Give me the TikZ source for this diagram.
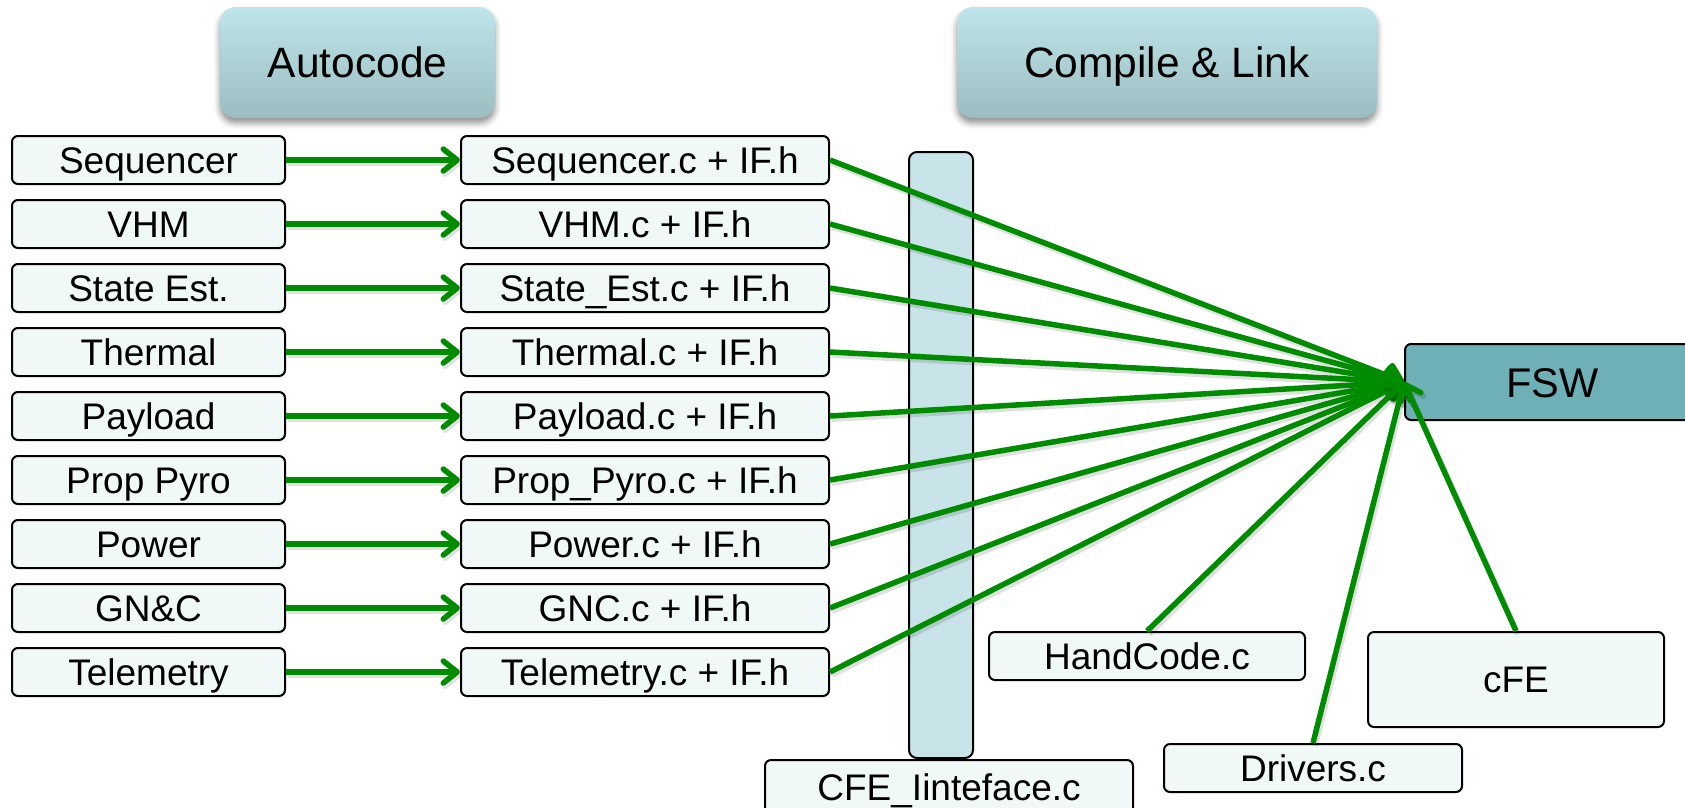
\documentclass[tikz,border=0pt]{standalone}
\usepackage{fontspec}
\setmainfont{Liberation Sans}
\usetikzlibrary{arrows.meta,shadows.blur}

\definecolor{boxfill}{HTML}{F0F8F8}
\definecolor{barfill}{HTML}{C9E4E8}
\definecolor{fswfill}{HTML}{6FB0B6}
\definecolor{hdrtop}{HTML}{BEE5EA}
\definecolor{hdrbot}{HTML}{9BBDC0}
\definecolor{flowgreen}{RGB}{0,140,0}

\begin{document}
\begin{tikzpicture}[x=1pt,y=-1pt,
  item/.style={draw=black, line width=2pt, rounded corners=6pt, fill=boxfill,
    minimum height=48pt, inner sep=0pt, text height=26.5pt, text depth=0pt,
    font=\fontsize{37}{42}\selectfont},
  hdr/.style={rounded corners=16pt, top color=hdrtop, bottom color=hdrbot, draw=none,
    minimum height=111pt, inner sep=0pt, text height=30pt, text depth=0pt,
    font=\fontsize{42.5}{48}\selectfont,
    blur shadow={shadow xshift=0pt, shadow yshift=-5pt, shadow blur radius=6pt, shadow opacity=45}},
  flow/.style={draw=flowgreen, line width=5.5pt,
    -{Straight Barb[length=14pt, width=22pt, round]},
    preaction={draw=black, draw opacity=0.12, line width=6pt,
      transform canvas={shift={(2pt,-3pt)}}}}
]
\useasboundingbox (0,0) rectangle (1685,807);

% stage headers
\node[hdr, minimum width=275pt] (autocode) at (357.5,62.5) {Autocode};
\node[hdr, minimum width=420pt] (compile) at (1167,62.5) {Compile \& Link};

% interface bar and its label
\node[item, minimum width=64pt, minimum height=606pt, fill=barfill, rounded corners=8pt] (ifbar) at (941,455) {};
\node[item, minimum width=368pt, minimum height=54pt] (cfeif) at (949,787) {CFE\_Iinteface.c};

% target image
\node[item, minimum width=295pt, minimum height=76pt, fill=fswfill, text height=30pt,
  font=\fontsize{41.5}{46}\selectfont] (fsw) at (1552.5,382) {FSW};
\coordinate (fswin) at (fsw.west);

% extra sources
\node[item, minimum width=316pt] (hand) at (1147,656) {HandCode.c};
\node[item, minimum width=298pt] (drv) at (1313,768) {Drivers.c};
\node[item, minimum width=296pt, minimum height=95pt] (cfe) at (1516,679.5) {cFE};

% models and generated code
\foreach \i/\m/\c in {
  1/Sequencer/Sequencer.c + IF.h,
  2/VHM/VHM.c + IF.h,
  3/State Est./State\_Est.c + IF.h,
  4/Thermal/Thermal.c + IF.h,
  5/Payload/Payload.c + IF.h,
  6/Prop Pyro/Prop\_Pyro.c + IF.h,
  7/Power/Power.c + IF.h,
  8/GN\&C/GNC.c + IF.h,
  9/Telemetry/Telemetry.c + IF.h}{
  \node[item, minimum width=273pt] (m\i) at (148.5,{160+64*(\i-1)}) {\m};
  \node[item, minimum width=368pt] (c\i) at (645,{160+64*(\i-1)}) {\c};
  \draw[flow] (m\i) -- (c\i);
  \draw[flow] (c\i.east) -- (fswin);
}

\draw[flow] (hand.north) -- (fswin);
\draw[flow] (drv.north) -- (fswin);
\draw[flow] (cfe.north) -- (fswin);
\end{tikzpicture}
\end{document}
